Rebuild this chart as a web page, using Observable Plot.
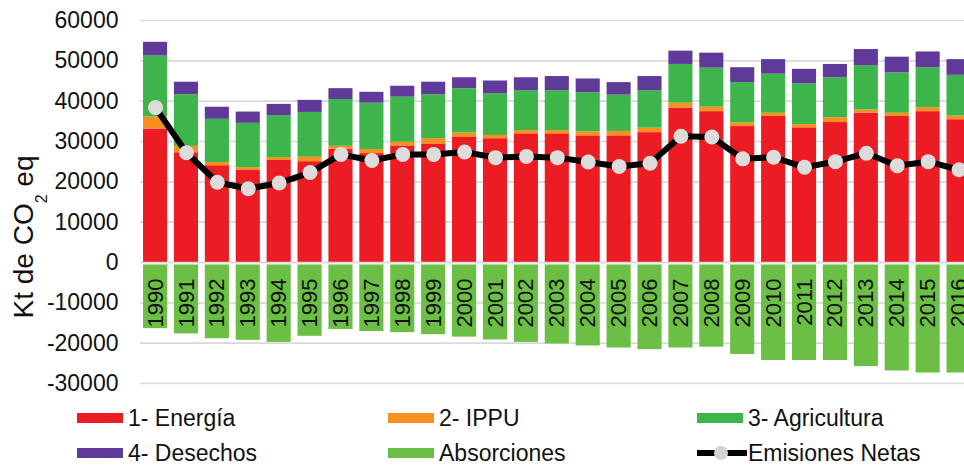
<!DOCTYPE html>
<html>
<head>
<meta charset="utf-8">
<script src="https://cdn.jsdelivr.net/npm/d3@7"></script>
<script src="https://cdn.jsdelivr.net/npm/@observablehq/plot@0.6"></script>
<style>
  html, body { margin: 0; padding: 0; background: #fff; overflow: hidden; }
  #wrap { position: relative; width: 964px; height: 466px; overflow: hidden;
          font-family: "Liberation Sans", Arial, sans-serif; }
  #chart svg { display: block; overflow: visible; }
  .leg { position: absolute; display: flex; align-items: center; font-size: 23px;
         color: #111; white-space: nowrap; height: 30px; }
  .sw { width: 46px; height: 10px; margin-right: 5px; flex: none; }
</style>
</head>
<body>
<div id="wrap"><div id="chart"></div></div>
<script>
// ---- Data (kt CO2 eq) ----
const years = [1990, 1991, 1992, 1993, 1994, 1995, 1996, 1997, 1998, 1999, 2000, 2001, 2002,
               2003, 2004, 2005, 2006, 2007, 2008, 2009, 2010, 2011, 2012, 2013, 2014, 2015, 2016];

const energia = [33100, 27200, 24000, 22800, 25300, 25000, 28100, 27000, 28900, 29400, 31000, 30700, 31900,
                 31900, 31400, 31400, 32200, 38300, 37400, 33700, 36200, 33400, 34700, 37000, 36200, 37400, 35400];
const ippu = [3000, 1600, 800, 700, 700, 1100, 700, 1000, 900, 1300, 1100, 800, 800,
              800, 1000, 1100, 1100, 1200, 1100, 900, 800, 800, 1200, 800, 800, 1000, 900];
const agricultura = [15100, 12800, 10700, 11000, 10400, 11100, 11600, 11500, 11200, 10900, 11000, 10300, 9900,
                     9900, 9700, 9000, 9300, 9600, 9700, 10000, 9700, 10100, 9900, 11000, 10000, 9900, 10100];
const desechos = [3400, 3100, 3000, 2800, 2800, 3000, 2700, 2700, 2700, 3100, 2700, 3200, 3200,
                  3500, 3400, 3100, 3500, 3300, 3700, 3700, 3600, 3600, 3300, 4000, 3900, 3900, 3900];
const absorciones = [-16400, -17700, -18900, -19300, -19800, -18300, -16600, -17100, -17400, -17900, -18500, -19200, -19800,
                     -20200, -20700, -21200, -21600, -21200, -21000, -22800, -24300, -24300, -24300, -25800, -26900, -27400, -27400];
const emisionesNetas = [38400, 27200, 19900, 18300, 19700, 22300, 26800, 25300, 26800, 26800, 27400, 26000, 26300,
                        26000, 24900, 23800, 24600, 31300, 31100, 25700, 26100, 23600, 25000, 27100, 24000, 25000, 23000];

const yTicks = [-30000, -20000, -10000, 0, 10000, 20000, 30000, 40000, 50000, 60000];

const seriesNames = ["1- Energía", "2- IPPU", "3- Agricultura", "4- Desechos"];
const seriesColors = ["#ec1c24", "#f7901e", "#3db54a", "#5f3a98"];
const absName = "Absorciones";
const absColor = "#6cbf45";
const netName = "Emisiones Netas";

// ---- Build tables ----
const seriesValues = [energia, ippu, agricultura, desechos];
const stackRows = [];
seriesNames.forEach((name, s) => {
  years.forEach((yr, i) => stackRows.push({year: yr, series: name, value: seriesValues[s][i]}));
});
const absRows = years.map((yr, i) => ({year: yr, value: absorciones[i]}));
const netRows = years.map((yr, i) => ({year: yr, value: emisionesNetas[i]}));

const FONT = '"Liberation Sans", Arial, sans-serif';

const plot = Plot.plot({
  width: 964,
  height: 392,
  marginLeft: 140,
  marginRight: 0,
  marginTop: 20,
  marginBottom: 9,
  style: {fontFamily: FONT, background: "transparent", color: "#111", overflow: "visible"},
  x: {type: "band", domain: years, range: [139.6, 974], paddingInner: 0.22, paddingOuter: 0.11,
      round: false, axis: null},
  y: {domain: [-30000, 60000], range: [383, 20], axis: null},
  color: {domain: seriesNames, range: seriesColors},
  marks: [
    Plot.ruleY(yTicks, {stroke: "#d9d9d9", strokeWidth: 1.6}),
    Plot.barY(stackRows, {x: "year", y: "value", fill: "series"}),
    Plot.barY(absRows, {x: "year", y1: 0, y2: "value", fill: absColor, insetTop: 2.5}),
    Plot.ruleY([0], {stroke: "#d9d9d9", strokeWidth: 1.6}),
    Plot.text(years, {x: d => d, y: 0, text: d => String(d), rotate: -90, textAnchor: "end",
                      lineAnchor: "middle", dy: 16, fontSize: 22, fill: "#111"}),
    Plot.lineY(netRows, {x: "year", y: "value", stroke: "#000", strokeWidth: 6}),
    Plot.dot(netRows, {x: "year", y: "value", r: 7.5, fill: "#dedcdb", stroke: "none"}),
    Plot.axisY(yTicks, {anchor: "left", tickSize: 0, tickPadding: 22, fontSize: 23,
                        tickFormat: d => String(d), label: null, fill: "#111"})
  ]
});

// Y-axis title with subscript
const svg = d3.select(plot);
const t = svg.append("text")
  .attr("transform", "translate(33,237) rotate(-90)")
  .attr("text-anchor", "middle")
  .attr("font-size", 28)
  .attr("font-family", FONT)
  .attr("fill", "#111");
t.append("tspan").text("Kt de CO");
t.append("tspan").attr("font-size", 16).attr("dy", 14).text("2");
t.append("tspan").attr("dy", -14).text(" eq");

document.getElementById("chart").appendChild(plot);

// ---- Legend (below the SVG) ----
const wrap = document.getElementById("wrap");
const legendItems = [
  {label: seriesNames[0], color: seriesColors[0], type: "box"},
  {label: seriesNames[1], color: seriesColors[1], type: "box"},
  {label: seriesNames[2], color: seriesColors[2], type: "box"},
  {label: seriesNames[3], color: seriesColors[3], type: "box"},
  {label: absName, color: absColor, type: "box"},
  {label: netName, color: "#000", type: "line"}
];
const colX = [77, 388, 697];
const rowY = [403, 438];
legendItems.forEach((it, k) => {
  const el = document.createElement("div");
  el.className = "leg";
  el.style.left = colX[k % 3] + "px";
  el.style.top = rowY[Math.floor(k / 3)] + "px";
  if (it.type === "box") {
    const sw = document.createElement("div");
    sw.className = "sw";
    sw.style.background = it.color;
    el.appendChild(sw);
  } else {
    const ns = "http://www.w3.org/2000/svg";
    const s = document.createElementNS(ns, "svg");
    s.setAttribute("width", 51); s.setAttribute("height", 18);
    s.style.flex = "none";
    const ln = document.createElementNS(ns, "line");
    ln.setAttribute("x1", 0); ln.setAttribute("x2", 50); ln.setAttribute("y1", 9); ln.setAttribute("y2", 9);
    ln.setAttribute("stroke", "#000"); ln.setAttribute("stroke-width", 6);
    const c = document.createElementNS(ns, "circle");
    c.setAttribute("cx", 24); c.setAttribute("cy", 9); c.setAttribute("r", 7);
    c.setAttribute("fill", "#d2d2d2");
    s.appendChild(ln); s.appendChild(c);
    el.appendChild(s);
  }
  const tx = document.createElement("span");
  tx.textContent = it.label;
  el.appendChild(tx);
  wrap.appendChild(el);
});
</script>
</body>
</html>
